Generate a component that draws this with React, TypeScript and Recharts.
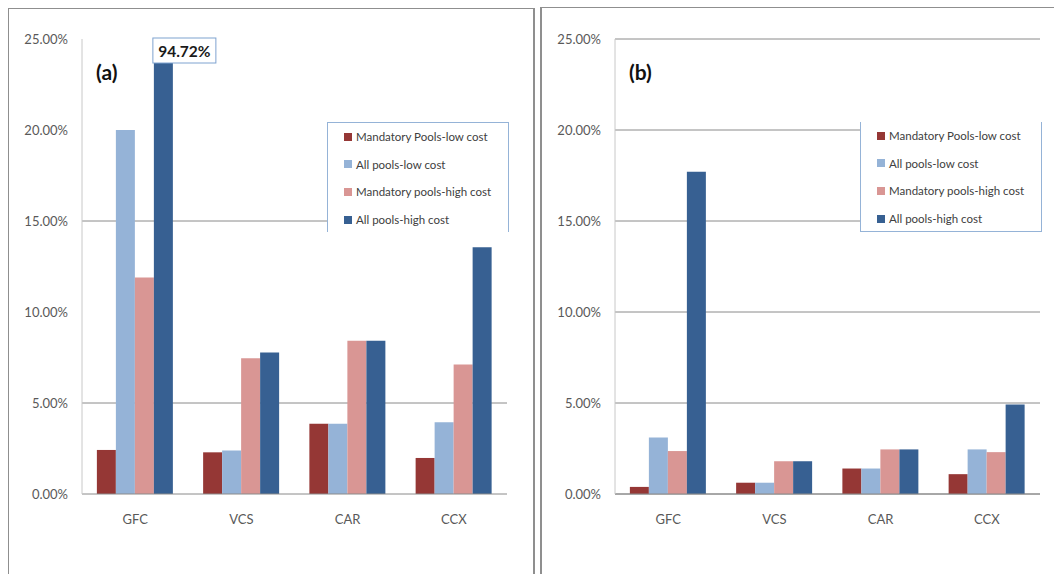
import React from "react";
import { BarChart, Bar, XAxis, YAxis, CartesianGrid, Legend, LabelList } from "recharts";

const categories = ["GFC", "VCS", "CAR", "CCX"];
const seriesNames = [
  "Mandatory Pools-low cost",
  "All pools-low cost",
  "Mandatory pools-high cost",
  "All pools-high cost",
];
const COLORS = ["#953735", "#95B3D7", "#D99694", "#376092"];

// panel (a), values in %
const aMandLow = [2.42, 2.29, 3.86, 1.98];
const aAllLow = [20.0, 2.39, 3.86, 3.94];
const aMandHigh = [11.9, 7.46, 8.42, 7.12];
const aAllHigh = [94.72, 7.78, 8.42, 13.56];

// panel (b), values in %
const bMandLow = [0.39, 0.62, 1.4, 1.09];
const bAllLow = [3.1, 0.62, 1.4, 2.45];
const bMandHigh = [2.36, 1.8, 2.45, 2.3];
const bAllHigh = [17.7, 1.8, 2.45, 4.92];

const yTicks = [0, 5, 10, 15, 20, 25];
const aGridValues = [5, 15];
const Y_MAX = 25;

const buildRows = (s: number[][]) =>
  categories.map((name, i) => ({ name, s0: s[0][i], s1: s[1][i], s2: s[2][i], s3: s[3][i] }));

const dataA = buildRows([aMandLow, aAllLow, aMandHigh, aAllHigh]);
const dataB = buildRows([bMandLow, bAllLow, bMandHigh, bAllHigh]);

const FONT = "Lato, 'Open Sans', sans-serif";
const fmt = (v: number) => `${v.toFixed(2)}%`;

const LegendBox = ({ payload, borders }: any) => {
  // keep the series order, recharts sorts by name otherwise
  const items = [...(payload || [])].sort(
    (a: any, b: any) => seriesNames.indexOf(a.value) - seriesNames.indexOf(b.value)
  );
  return (
    <div
      style={{
        width: 182,
        height: 110,
        background: "#fff",
        boxSizing: "border-box",
        fontFamily: FONT,
        ...borders,
      }}
    >
      {items.map((entry: any, index: number) => (
        <div key={`item-${index}`} style={{ height: 27.6, display: "flex", alignItems: "center" }}>
          <div style={{ width: 8, height: 8, marginLeft: 16, background: entry.color }} />
          <span style={{ marginLeft: 4, fontSize: 11.5, color: "#404040", whiteSpace: "nowrap" }}>
            {entry.value}
          </span>
        </div>
      ))}
    </div>
  );
};

// box with the real value for a bar that runs past the top of the axis
const OverflowLabel = (props: any) => {
  const vb = props.viewBox || {};
  const x = props.x ?? vb.x;
  const y = props.y ?? vb.y;
  const height = props.height ?? vb.height;
  const value = Number(props.value);
  if (!(value > Y_MAX)) return null;
  const bottom = y + height;
  const top = bottom - height * (Y_MAX / value);
  return (
    <g>
      <rect x={x - 1} y={top - 1} width={63} height={25} fill="#fff" stroke="#7FA3D0" />
      <text
        x={x + 30.5}
        y={top + 12}
        textAnchor="middle"
        dominantBaseline="central"
        fontFamily={FONT}
        fontWeight="bold"
        fontSize={15.5}
        fill="#1a1a1a"
      >
        {fmt(value)}
      </text>
    </g>
  );
};

const tickStyle = { fontSize: 13, fill: "#595959", fontFamily: FONT };

function Panel({ data, width, marginRight, gridValues, legendBorders, overflowLabel }: any) {
  const gridGen = gridValues
    ? ({ yAxis, offset }: any) =>
        gridValues.map((v: number) =>
          yAxis && typeof yAxis.scale === "function"
            ? yAxis.scale(v)
            : offset.top + offset.height * (1 - v / Y_MAX)
        )
    : undefined;
  return (
    <BarChart
      width={width}
      height={574}
      data={data}
      margin={{ top: 39, right: marginRight, bottom: 50, left: 0 }}
      barCategoryGap="14%"
      barGap={0}
    >
      <CartesianGrid vertical={false} stroke="#8a8a8a" horizontalCoordinatesGenerator={gridGen} />
      <XAxis
        dataKey="name"
        height={30}
        tickLine={false}
        tickSize={0}
        tickMargin={21}
        axisLine={{ stroke: "#8a8a8a" }}
        tick={tickStyle}
      />
      <YAxis
        width={82}
        domain={[0, Y_MAX]}
        ticks={yTicks}
        allowDataOverflow
        tickFormatter={fmt}
        tickLine={false}
        tickSize={0}
        tickMargin={14}
        axisLine={{ stroke: "#c8c8c8" }}
        tick={tickStyle}
      />
      <Legend
        layout="vertical"
        align="center"
        verticalAlign="middle"
        wrapperStyle={{ left: 327, top: 122 }}
        content={(p: any) => <LegendBox payload={p.payload} borders={legendBorders} />}
      />
      {["s0", "s1", "s2", "s3"].map((key, i) => (
        <Bar key={key} dataKey={key} name={seriesNames[i]} fill={COLORS[i]} isAnimationActive={false}>
          {overflowLabel && i === 3 ? <LabelList dataKey={key} content={OverflowLabel} /> : null}
        </Bar>
      ))}
    </BarChart>
  );
}

export default function App() {
  return (
    <div
      style={{
        position: "absolute",
        left: 0,
        top: 0,
        width: 1054,
        height: 574,
        overflow: "hidden",
        background: "#fff",
        fontFamily: FONT,
      }}
    >
      <div style={{ position: "absolute", left: 8, top: 8, width: 524, height: 700, border: "1px solid #8f8f8f", borderRightWidth: 2 }} />
      <div style={{ position: "absolute", left: 540, top: 7, width: 700, height: 700, border: "1px solid #8f8f8f", borderLeftWidth: 2 }} />

      <div style={{ position: "absolute", left: 0, top: 0 }}>
        <Panel
          data={dataA}
          width={530}
          marginRight={23}
          gridValues={aGridValues}
          overflowLabel
          legendBorders={{ borderTop: "1px solid #95B3D7", borderLeft: "1px solid #95B3D7", borderRight: "1px solid #95B3D7" }}
        />
      </div>
      <div style={{ position: "absolute", left: 533, top: 0 }}>
        <Panel
          data={dataB}
          width={521}
          marginRight={14}
          legendBorders={{ borderBottom: "1px solid #95B3D7", borderLeft: "1px solid #95B3D7", borderRight: "1px solid #95B3D7" }}
        />
      </div>

      <div style={{ position: "absolute", left: 96, top: 61, fontSize: 21, fontWeight: "bold", lineHeight: "21px", color: "#111" }}>
        (a)
      </div>
      <div style={{ position: "absolute", left: 629, top: 61, fontSize: 21, fontWeight: "bold", lineHeight: "21px", color: "#111" }}>
        (b)
      </div>
    </div>
  );
}
